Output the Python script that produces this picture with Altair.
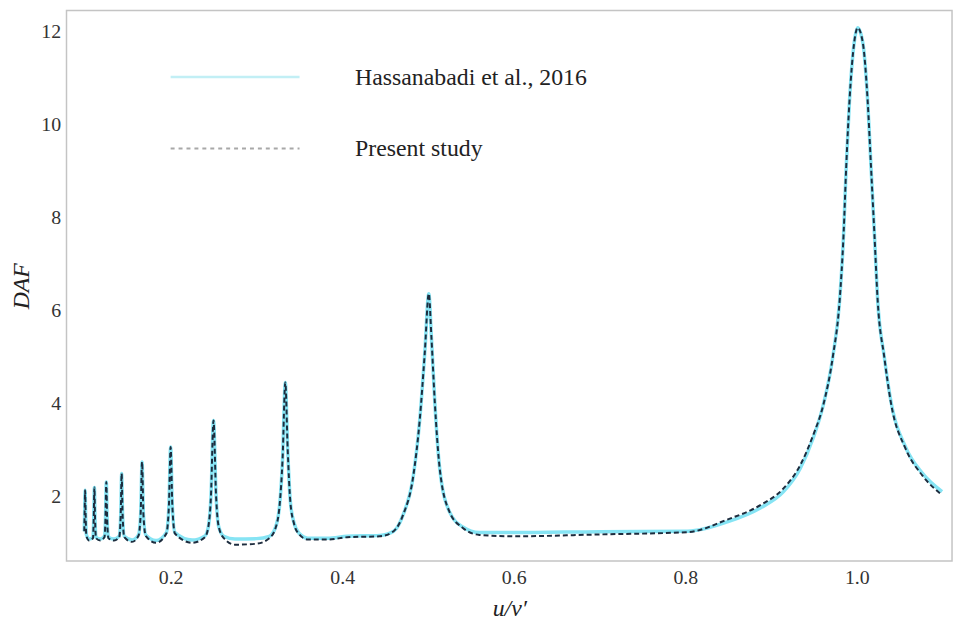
import altair as alt
import pandas as pd

# ---- data ----
u_present = [0.0993, 0.0998, 0.1003, 0.1009, 0.1017, 0.1050, 0.1095, 0.1103, 0.1111, 0.1119,
             0.1130, 0.1180, 0.1228, 0.1240, 0.1250, 0.1260, 0.1275, 0.1340, 0.1400, 0.1418,
             0.1429, 0.1440, 0.1460, 0.1550, 0.1625, 0.1650, 0.1667, 0.1683, 0.1710, 0.1830,
             0.1950, 0.1980, 0.2000, 0.2020, 0.2050, 0.2250, 0.2400, 0.2440, 0.2470, 0.2500,
             0.2530, 0.2560, 0.2620, 0.2750, 0.3000, 0.3150, 0.3220, 0.3270, 0.3305, 0.3337,
             0.3365, 0.3395, 0.3440, 0.3500, 0.3600, 0.3830, 0.4060, 0.4440, 0.4600, 0.4710,
             0.4830, 0.4905, 0.4963, 0.5010, 0.5040, 0.5080, 0.5137, 0.5250, 0.5407, 0.5600,
             0.6000, 0.7000, 0.8030, 0.8490, 0.8875, 0.9145, 0.9340, 0.9490, 0.9607, 0.9720,
             0.9800, 0.9846, 0.9876, 0.9914, 0.9970, 1.0010, 1.0069, 1.0127, 1.0166, 1.0205,
             1.0243, 1.0320, 1.0397, 1.0570, 1.0763, 1.0994]
daf_present = [1.25, 1.70, 2.13, 1.60, 1.15, 1.05, 1.10, 1.50, 2.19, 1.50,
               1.10, 1.05, 1.12, 1.50, 2.31, 1.50, 1.10, 1.05, 1.12, 1.60,
               2.49, 1.60, 1.12, 1.02, 1.15, 1.60, 2.74, 1.60, 1.15, 1.00,
               1.20, 1.80, 3.06, 1.80, 1.20, 1.00, 1.12, 1.35, 2.00, 3.63,
               2.00, 1.35, 1.10, 0.96, 0.98, 1.10, 1.30, 1.80, 2.80, 4.45,
               3.00, 1.90, 1.40, 1.18, 1.07, 1.07, 1.12, 1.14, 1.25, 1.60,
               2.45, 3.66, 5.09, 6.36, 5.44, 4.02, 2.60, 1.67, 1.32, 1.17,
               1.14, 1.18, 1.23, 1.50, 1.81, 2.17, 2.67, 3.31, 3.95, 5.00,
               6.22, 7.65, 9.07, 10.49, 11.77, 12.08, 11.77, 10.49, 9.07, 7.65,
               6.22, 5.00, 4.02, 3.02, 2.45, 2.03]

u_hassan = u_present
daf_hassan = [1.25, 1.70, 2.13, 1.60, 1.18, 1.08, 1.12, 1.50, 2.19, 1.50,
              1.12, 1.08, 1.14, 1.50, 2.31, 1.50, 1.12, 1.08, 1.14, 1.60,
              2.49, 1.60, 1.14, 1.06, 1.17, 1.60, 2.74, 1.60, 1.17, 1.05,
              1.22, 1.80, 3.06, 1.80, 1.22, 1.06, 1.15, 1.35, 2.00, 3.63,
              2.00, 1.35, 1.14, 1.08, 1.09, 1.14, 1.32, 1.80, 2.80, 4.45,
              3.00, 1.90, 1.42, 1.20, 1.10, 1.10, 1.14, 1.16, 1.25, 1.60,
              2.45, 3.66, 5.09, 6.36, 5.44, 4.02, 2.60, 1.67, 1.34, 1.22,
              1.22, 1.24, 1.25, 1.45, 1.75, 2.10, 2.60, 3.25, 3.95, 5.00,
              6.22, 7.65, 9.07, 10.49, 11.77, 12.08, 11.77, 10.49, 9.07, 7.65,
              6.22, 5.00, 4.05, 3.05, 2.50, 2.10]

series_names = ["Hassanabadi et al., 2016", "Present study"]
x_ticks = [0.2, 0.4, 0.6, 0.8, 1.0]
y_ticks = [2, 4, 6, 8, 10, 12]

df_h = pd.DataFrame({"u": u_hassan, "DAF": daf_hassan, "series": series_names[0]})
df_p = pd.DataFrame({"u": u_present, "DAF": daf_present, "series": series_names[1]})

FONT = "Liberation Serif"

xenc = alt.X("u:Q", scale=alt.Scale(domain=[0.0786, 1.111], nice=False, zero=False),
             axis=alt.Axis(values=x_ticks, format=".1f", title="u/v′", grid=False,
                           ticks=False, domain=False, labelPadding=7, titlePadding=9))
yenc = alt.Y("DAF:Q", scale=alt.Scale(domain=[0.61, 12.45], nice=False, zero=False),
             axis=alt.Axis(values=y_ticks, format="d", title="DAF", grid=False,
                           ticks=False, domain=False, labelPadding=6, titlePadding=7))

line_h = alt.Chart(df_h).mark_line(color="#86e4f4", strokeWidth=3.5, interpolate="monotone").encode(
    x=xenc, y=yenc)
line_p = alt.Chart(df_p).mark_line(color="#1d2c3e", strokeWidth=2, strokeDash=[5, 3],
                                    interpolate="monotone").encode(x=xenc, y=yenc)

leg_h = pd.DataFrame({"label": [series_names[0]]})
leg_p = pd.DataFrame({"label": [series_names[1]]})

rule_h = alt.Chart(leg_h).mark_rule(color="#c2eff5", strokeWidth=2.5).encode(
    x=alt.value(105), x2=alt.value(235), y=alt.value(67))
rule_p = alt.Chart(leg_p).mark_rule(color="#a8a8a8", strokeWidth=2, strokeDash=[4, 4]).encode(
    x=alt.value(105), x2=alt.value(235), y=alt.value(139))
text_h = alt.Chart(leg_h).mark_text(align="left", baseline="middle", font=FONT, fontSize=24,
                                    color="#222222").encode(
    x=alt.value(291), y=alt.value(68), text="label:N")
text_p = alt.Chart(leg_p).mark_text(align="left", baseline="middle", font=FONT, fontSize=24,
                                    color="#222222").encode(
    x=alt.value(291), y=alt.value(140), text="label:N")

chart = alt.layer(line_h, line_p, rule_h, rule_p, text_h, text_p).properties(
    width=893, height=555,
    autosize=alt.AutoSizeParams(type="none"),
    padding={"left": 59, "top": 0, "right": 3, "bottom": 62},
).configure_view(
    stroke="#c4c4c4", strokeWidth=1.5
).configure_axis(
    labelFont=FONT, labelFontSize=20, labelColor="#333333",
    titleFont=FONT, titleFontSize=24, titleFontStyle="italic", titleFontWeight="normal",
    titleColor="#222222"
)

chart.save("out.html", embed_options={"renderer": "svg", "actions": False})
